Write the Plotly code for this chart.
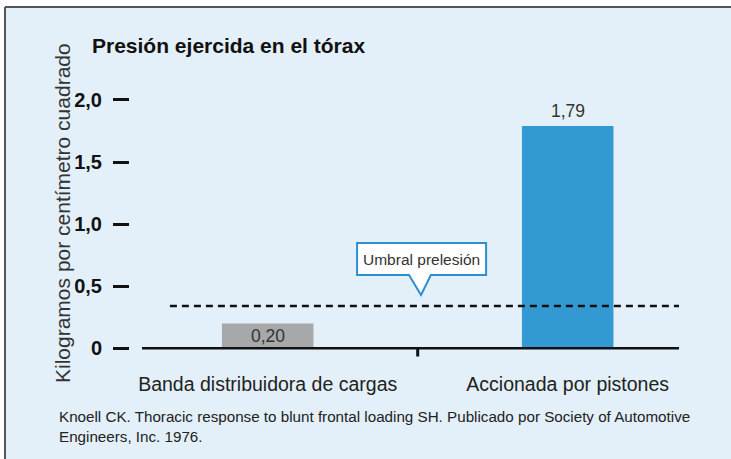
import plotly.graph_objects as go

# ---- data ----
categories = ["Banda distribuidora de cargas", "Accionada por pistones"]
values = [0.20, 1.79]
bar_colors = ["#a7a8aa", "#3399d3"]
threshold = 0.34
threshold_label = "Umbral prelesión"
y_tickvals = [0, 0.5, 1.0, 1.5, 2.0]
y_ticktext = ["0", "0,5", "1,0", "1,5", "2,0"]
title_text = "Presión ejercida en el tórax"
y_title = "Kilogramos por centímetro cuadrado"
source_text = ("Knoell CK. Thoracic response to blunt frontal loading SH. Publicado por Society of Automotive"
               "<br>Engineers, Inc. 1976.")

x_pos = list(range(len(categories)))
REG = "Liberation Sans, Arial, sans-serif"
BG = "#e3f0f9"

fig = go.Figure()
fig.add_trace(go.Bar(
    x=x_pos, y=values, width=0.305,
    marker=dict(color=bar_colors, line=dict(width=0)),
    hoverinfo="skip",
))

# value labels
for i, v in enumerate(values):
    txt = f"{v:.2f}".replace(".", ",")
    inside = v < 0.5
    fig.add_annotation(
        x=x_pos[i], y=v, text=txt, showarrow=False,
        yanchor="top" if inside else "bottom",
        yshift=-1 if inside else 3,
        font=dict(family=REG, size=17.5, color="#333333"),
    )

# frame geometry in paper units (plot area: 130..700 px wide, 70..370 px tall)
fx0 = (5 - 130) / 570
fy1 = (370 - 7) / 300
shapes = []
shapes.append(dict(type="rect", xref="paper", yref="paper",
                   x0=fx0, x1=1.6, y0=-0.8, y1=fy1,
                   fillcolor=BG, line=dict(width=0), layer="below"))
shapes.append(dict(type="line", xref="paper", yref="paper", x0=fx0, x1=1.6, y0=fy1, y1=fy1,
                   line=dict(color="#555555", width=2), layer="below"))
shapes.append(dict(type="line", xref="paper", yref="paper", x0=fx0, x1=fx0, y0=-0.8, y1=fy1,
                   line=dict(color="#555555", width=2), layer="below"))
# baseline axis
shapes.append(dict(type="line", xref="x", yref="y", x0=-0.419, x1=1.371, y0=0, y1=0,
                   line=dict(color="#111111", width=2.5)))
# middle tick
shapes.append(dict(type="line", xref="x", yref="y", x0=0.5, x1=0.5, y0=0, y1=-0.066,
                   line=dict(color="#111111", width=3)))
# threshold dashed line
shapes.append(dict(type="line", xref="x", yref="y", x0=-0.326, x1=1.371,
                   y0=threshold, y1=threshold,
                   line=dict(color="#111111", width=2.5, dash="7px,5px")))
# callout box with notch
bl, br, bt, bb = 0.298, 0.728, 0.848, 0.590
nl, nr, tipx = 0.471, 0.544, 0.511
tipy = threshold + 0.089
path = (f"M {bl},{bt} L {br},{bt} L {br},{bb} L {nr},{bb} L {tipx},{tipy} "
        f"L {nl},{bb} L {bl},{bb} Z")
shapes.append(dict(type="path", xref="x", yref="y", path=path,
                   fillcolor="white", line=dict(color="#2b8fd0", width=2)))
fig.add_annotation(x=(bl + br) / 2, y=(bt + bb) / 2, text=threshold_label, showarrow=False,
                   font=dict(family=REG, size=15.5, color="#333333"))

# y-axis title
fig.add_annotation(xref="paper", yref="paper", x=(62 - 130) / 570, y=(370 - 213) / 300,
                   xanchor="center", yanchor="middle",
                   text=y_title, textangle=-90, showarrow=False,
                   font=dict(family=REG, size=21, color="#333333"))
# source note
fig.add_annotation(xref="paper", yref="paper", x=(57 - 130) / 570, y=(370 - 406) / 300,
                   xanchor="left", yanchor="top", align="left", text=source_text, showarrow=False,
                   font=dict(family=REG, size=15.2, color="#222222"))

fig.update_layout(
    width=731, height=459,
    margin=dict(l=130, r=31, t=70, b=89),
    paper_bgcolor="white", plot_bgcolor="rgba(0,0,0,0)",
    showlegend=False,
    shapes=shapes,
    title=dict(text=f"<b>{title_text}</b>", x=92 / 731, xanchor="left",
               y=1 - 46 / 459, yanchor="middle",
               font=dict(family=REG, size=21, color="#111111")),
    xaxis=dict(range=[-0.459, 1.441], tickvals=x_pos, ticktext=categories,
               showgrid=False, zeroline=False, showline=False, ticks="",
               tickfont=dict(family=REG, size=19.5, color="#222222"),
               ticklabelstandoff=0),
    yaxis=dict(range=[-0.1747, 2.2407], tickvals=y_tickvals, ticktext=y_ticktext,
               showgrid=False, zeroline=False, showline=False,
               ticks="outside", ticklen=16, tickwidth=3, tickcolor="#111111",
               ticklabelstandoff=7,
               tickfont=dict(family=REG, size=20, color="#111111", weight="bold")),
)

fig.write_html(
    "out.html",
    config={"displayModeBar": False, "responsive": False},
    post_script="document.body.style.margin='0px';document.body.style.overflow='hidden';"
                "document.documentElement.style.overflow='hidden';",
)
